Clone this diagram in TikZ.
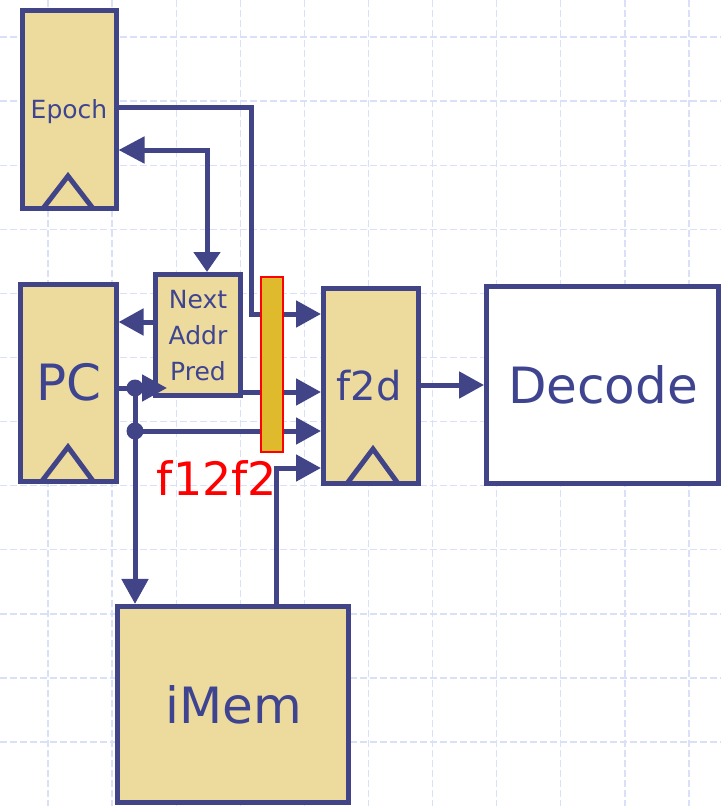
\documentclass[tikz,border=0pt]{standalone}
\usepackage{fontspec}
\setmainfont{DejaVu Sans}
\usetikzlibrary{arrows.meta}
\definecolor{wire}{HTML}{414588}
\definecolor{boxfill}{HTML}{EDDB9D}
\definecolor{txt}{HTML}{3F4491}
\definecolor{gridc}{HTML}{D9E0F8}
\definecolor{barfill}{HTML}{DFBA2C}
\begin{document}
\begin{tikzpicture}[x=1pt,y=-1pt,
  blk/.style={draw=wire, line width=5pt, fill=boxfill, rectangle, inner sep=0pt},
  wblk/.style={draw=wire, line width=5pt, fill=white, rectangle, inner sep=0pt},
  wirel/.style={draw=wire, line width=5pt},
  arr/.style={-{Triangle[length=25pt,width=26pt]}},
  lbl/.style={text=txt, inner sep=0pt, anchor=base},
  clk/.style={draw=wire, line width=5pt, line join=miter},
  jdot/.style={circle, fill=wire, inner sep=0pt, minimum size=17pt},
  gridl/.style={draw=gridc, line width=1.3pt, dash pattern=on 7pt off 3pt}
]
\useasboundingbox (0,0) rectangle (721,806);
\fill[white] (0,0) rectangle (721,806);
% background grid
\foreach \i in {0,...,10} \draw[gridl] ({48+64.1*\i},0) -- ({48+64.1*\i},806);
\foreach \j in {0,...,11} \draw[gridl] (0,{37+64.1*\j}) -- (721,{37+64.1*\j});

% boxes
\node[blk, minimum width=94pt, minimum height=198pt] (epoch) at (69,109.5) {};
\node[blk, minimum width=95.5pt, minimum height=196.5pt] (pc) at (68.3,382.8) {};
\node[blk, minimum width=85pt, minimum height=121pt] (nap) at (198,335) {};
\node[blk, minimum width=95pt, minimum height=195pt] (f2d) at (371,386) {};
\node[wblk, minimum width=231.5pt, minimum height=197pt] (decode) at (602.3,385) {};
\node[blk, minimum width=230.7pt, minimum height=196.5pt] (imem) at (233.3,704.7) {};

% clock triangles
\draw[clk] (43,208.5) -- (68,176) -- (93,208.5);
\draw[clk] (42,481) -- (68,447) -- (93,481);
\draw[clk] (347,483.5) -- (373,449) -- (398,483.5);

% labels
\node[lbl, font=\fontsize{25}{30}\selectfont] (tepoch) at (69,118.3) {Epoch};
\node[lbl, font=\fontsize{25}{30}\selectfont] (tnext) at (198,308.3) {Next};
\node[lbl, font=\fontsize{25}{30}\selectfont] (taddr) at (198,344) {Addr};
\node[lbl, font=\fontsize{25}{30}\selectfont] (tpred) at (198,380) {Pred};
\node[lbl, font=\fontsize{50}{60}\selectfont] (tpc) at (69,400) {PC};
\node[lbl, font=\fontsize{40}{48}\selectfont] (tf2d) at (369,400) {f2d};
\node[lbl, font=\fontsize{50}{60}\selectfont] (tdecode) at (603,403.3) {Decode};
\node[lbl, font=\fontsize{50}{60}\selectfont] (timem) at (233.5,723) {iMem};

% helper coordinates
\coordinate (yE) at (0,107);
\coordinate (cE) at (251.5,107);
\coordinate (cE2) at (251.5,314);
\coordinate (cB) at (207,150);
\coordinate (yN) at (0,322);
\coordinate (t1) at (167,388);
\coordinate (yP) at (0,392);
\coordinate (cM) at (276,468);
\coordinate (yD) at (0,385);
\coordinate (dA) at (135,388);
\coordinate (dB) at (135,431);

% wires
\draw[wirel, arr] (epoch.east |- yE) -- (cE) -- (cE2) -- (f2d.west |- cE2);
\draw[wirel, {Triangle[length=26pt,width=26pt]}-{Triangle[length=20pt,width=26pt]}]
  (epoch.east |- cB) -- (cB) -- (nap.north -| cB);
\draw[wirel, arr] (nap.west |- yN) -- (pc.east |- yN);
\draw[wirel] (pc.east |- dA) -- (dA);
\draw[wirel, arr] (dA) -- (t1);
\draw[wirel, arr] (dA) -- (imem.north -| dA);
\draw[wirel] (dA) -- (dB);
\draw[wirel, arr] (dB) -- (f2d.west |- dB);
\draw[wirel, arr] (nap.east |- yP) -- (f2d.west |- yP);
\draw[wirel, arr] (imem.north -| cM) -- (cM) -- (f2d.west |- cM);
\draw[wirel, arr] (f2d.east |- yD) -- (decode.west |- yD);

% junction dots
\node[jdot] (jA) at (dA) {};
\node[jdot] (jB) at (dB) {};

% pipeline register bar
\node[draw=red, fill=barfill, line width=1.5pt, minimum width=22pt, minimum height=175pt, inner sep=0pt] (bar) at (272,364.5) {};
\node[lbl, text=red, font=\fontsize{46}{55}\selectfont] (tbar) at (217,495) {f12f2};
\end{tikzpicture}
\end{document}
